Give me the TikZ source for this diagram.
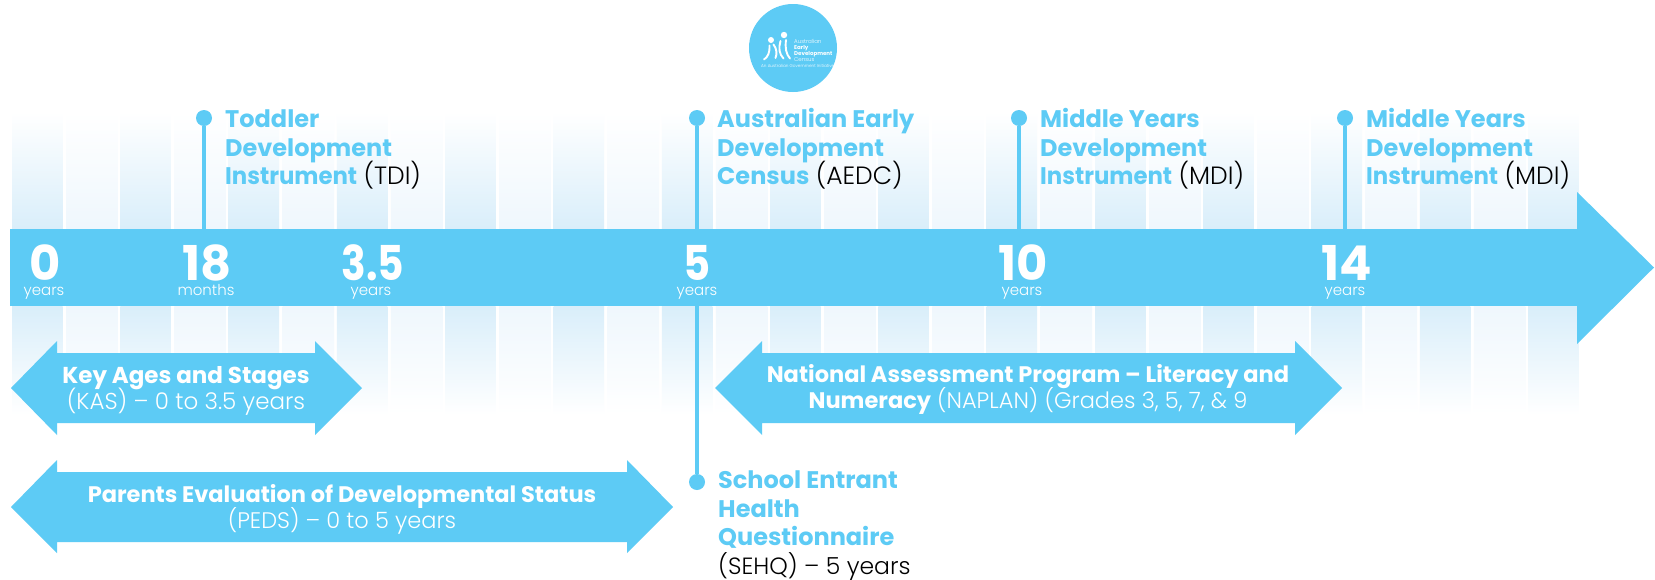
\documentclass[tikz,border=0pt]{standalone}
\usepackage{fontspec}
\setmainfont{Poppins}
\newfontfamily\lightfont{Poppins Light}
\definecolor{sky}{HTML}{5DCBF5}
\definecolor{stripeA}{HTML}{D9EEFA}
\definecolor{stripeB}{HTML}{EFF7FD}
\newcommand{\blue}[1]{\textcolor{sky}{\bfseries #1}}
\newcommand{\paren}[1]{\textcolor{black}{\fontsize{25}{28.4}\selectfont\lightfont #1}}
\newcommand{\instr}{\scalebox{0.95}[1]{Instrument}}
\begin{document}
\begin{tikzpicture}[x=1pt,y=-1pt,
  stem/.style={draw=sky,line width=4.6pt},
  dot/.style={circle,fill=sky,inner sep=0pt,minimum size=16pt},
  heading/.style={anchor=base west,inner sep=0pt,align=left,execute at begin node={\lineskiplimit=-100pt},font=\fontsize{24}{28.4}\selectfont},
  agenum/.style={anchor=base,inner sep=0pt,text=white,font=\fontsize{48}{48}\selectfont\bfseries},
  ageunit/.style={anchor=base,inner sep=0pt,text=white,font=\fontsize{15}{15}\selectfont\lightfont},
  barlabel/.style={anchor=base,inner sep=0pt,align=center,text=white,execute at begin node={\lineskiplimit=-100pt},font=\fontsize{22.5}{26}\selectfont},
  logotext/.style={anchor=base west,inner sep=0pt,text=white},
  logoline/.style={draw=white,line width=1.9pt,line cap=round}]
\useasboundingbox (0,0) rectangle (1655,579);
\fill[white] (0,0) rectangle (1655,579);
% stripes
\foreach \x in {12,120.3,228.6,336.9,445.2,553.5,661.8,770.1,878.4,986.7,1095,1203.3,1311.6,1419.9,1528}{
  \shade[top color=white,bottom color=stripeA] (\x,112) rectangle (\x+50.5,229);
  \shade[top color=stripeA,bottom color=white] (\x,306) rectangle (\x+50.5,415);
}
\foreach \x in {66,174.3,282.6,390.9,499.2,607.5,715.8,824.1,932.4,1040.7,1149,1257.3,1365.6,1473.9}{
  \shade[top color=white,bottom color=stripeB] (\x,112) rectangle (\x+51.5,229);
  \shade[top color=stripeB,bottom color=white] (\x,306) rectangle (\x+51.5,415);
}
% main axis
\node[fill=sky,inner sep=0pt,minimum width=1568pt,minimum height=77pt,anchor=north west] (axis) at (10,229) {};
\fill[sky] (1577,229) -- (1577,192) -- (1654,267.5) -- (1577,344) -- (1577,306) -- cycle;
% markers
\node[dot] (d18) at (204,118) {};
\node[dot] (d5) at (697,118) {};
\node[dot] (d10) at (1019,118) {};
\node[dot] (d14) at (1345,118) {};
\node[dot] (d5b) at (697,482) {};
\draw[stem] (d18) -- (d18 |- axis.north);
\draw[stem] (d5) -- (d5 |- axis.north);
\draw[stem] (d10) -- (d10 |- axis.north);
\draw[stem] (d14) -- (d14 |- axis.north);
\draw[stem] (d5b) -- (d5b |- axis.south);
% headings
\node[heading] (tTDI) at (225,184.5) {\blue{Toddler}\\\blue{Development}\\\blue{\instr} \paren{(TDI)}};
\node[heading] (tAEDC) at (717,184.5) {\blue{Australian Early}\\\blue{Development}\\\blue{Census} \paren{(AEDC)}};
\node[heading] (tMDIa) at (1040,184.5) {\blue{Middle Years}\\\blue{Development}\\\blue{\instr} \paren{(MDI)}};
\node[heading] (tMDIb) at (1366,184.5) {\blue{Middle Years}\\\blue{Development}\\\blue{\instr} \paren{(MDI)}};
\node[heading] (tSEHQ) at (718,574) {\blue{School Entrant}\\\blue{Health}\\\blue{Questionnaire}\\\paren{\fontsize{23.5}{28.4}\selectfont (SEHQ) – 5 years}};
% ages
\node[agenum] (n0) at (45,280.5) {0};
\node[ageunit] (u0) at (44,295) {years};
\node[agenum] (n18) at (207,280.5) {18};
\node[ageunit] (u18) at (206,295) {months};
\node[agenum] (n35) at (373,280.5) {\scalebox{0.85}[1]{3.5}};
\node[ageunit] (u35) at (371,295) {years};
\node[agenum] (n5) at (697,280.5) {\scalebox{0.87}[1]{5}};
\node[ageunit] (u5) at (697,295) {years};
\node[agenum] (n10) at (1023,280.5) {10};
\node[ageunit] (u10) at (1022,295) {years};
\node[agenum] (n14) at (1347,280.5) {14};
\node[ageunit] (u14) at (1345,295) {years};
% double arrows
\fill[sky] (11,388) -- (57,341) -- (57,353) -- (315,353) -- (315,341) -- (362,388) -- (315,435) -- (315,423) -- (57,423) -- (57,435) -- cycle;
\fill[sky] (11,507) -- (57,460) -- (57,472) -- (627,472) -- (627,460) -- (673,507) -- (627,553) -- (627,542) -- (57,542) -- (57,553) -- cycle;
\fill[sky] (715,388) -- (762,341) -- (762,353) -- (1295,353) -- (1295,341) -- (1342,388) -- (1295,435) -- (1295,423) -- (762,423) -- (762,435) -- cycle;
\node[barlabel,font=\fontsize{23}{26}\selectfont] (kas) at (186,409) {\textbf{Key Ages and Stages}\\{\lightfont (KAS) – 0 to 3.5 years}};
\node[barlabel] (peds) at (342,528) {\textbf{Parents Evaluation of Developmental Status}\\{\lightfont (PEDS) – 0 to 5 years}};
\node[barlabel] (naplan) at (1028,408.5) {\textbf{National Assessment Program – Literacy and}\\\textbf{Numeracy} {\lightfont (NAPLAN) (Grades 3, 5, 7, \& 9}};
% logo
\fill[sky] (793,48) circle (44);
\fill[white] (771,40) circle (3);
\fill[white] (784,35) circle (3.2);
\draw[logoline] (769.5,45.5) .. controls (770,52) and (768,57) .. (764,59.5);
\draw[logoline] (773.5,44.5) .. controls (777,49) and (777,54) .. (775.5,58);
\draw[logoline] (780.5,41) .. controls (778.5,48) and (779,54) .. (783.5,58.5);
\draw[logoline] (786,40) .. controls (785,48) and (786,54) .. (790,58.5);
\node[logotext,font=\fontsize{5.5}{6}\selectfont\lightfont] (l1) at (794,43) {Australian};
\node[logotext,font=\fontsize{5.5}{6}\selectfont\bfseries] (l2) at (794,49) {Early};
\node[logotext,font=\fontsize{5.5}{6}\selectfont\bfseries] (l3) at (794,55) {Development};
\node[logotext,font=\fontsize{5.5}{6}\selectfont\lightfont] (l4) at (794,61) {Census};
\node[logotext,font=\fontsize{4.2}{4.5}\selectfont\lightfont] (l5) at (761,67) {An Australian Government Initiative};
\end{tikzpicture}
\end{document}
